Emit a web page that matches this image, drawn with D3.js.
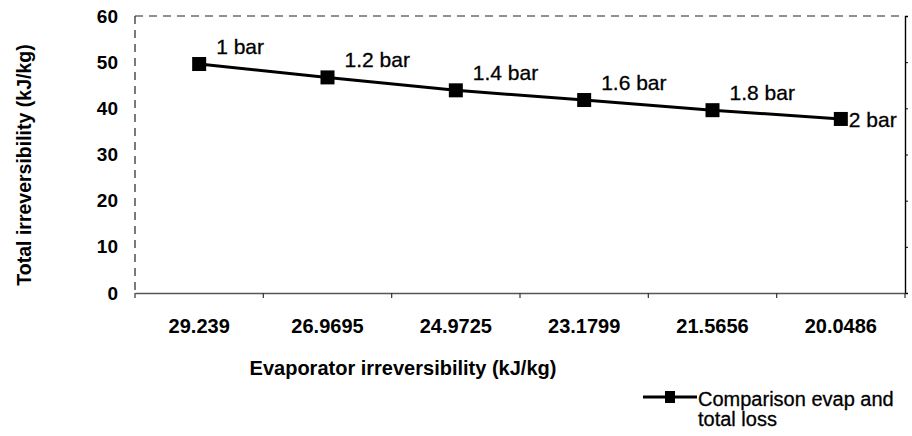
<!DOCTYPE html>
<html>
<head>
<meta charset="utf-8">
<script src="https://cdn.jsdelivr.net/npm/d3@7"></script>
<style>
  html, body { margin: 0; padding: 0; background: #fff; }
  svg { display: block; font-family: "Liberation Sans", Arial, sans-serif; }
</style>
</head>
<body>
<svg id="chart" width="912" height="436"></svg>
<script>
// ---- data ----
const categories = ["29.239", "26.9695", "24.9725", "23.1799", "21.5656", "20.0486"];
const values = [49.6, 46.7, 43.9, 41.8, 39.6, 37.7];
const pointLabels = ["1 bar", "1.2 bar", "1.4 bar", "1.6 bar", "1.8 bar", "2 bar"];
const yTicks = [0, 10, 20, 30, 40, 50, 60];
const seriesName = ["Comparison evap and", "total loss"];
const xTitle = "Evaporator irreversibility (kJ/kg)";
const yTitle = "Total irreversibility (kJ/kg)";

// ---- layout ----
const svg = d3.select("#chart");
const L = 135, R = 905, T = 16, B = 293;

const x = d3.scaleBand().domain(categories).range([L, R]).paddingInner(0).paddingOuter(0);
const y = d3.scaleLinear().domain([0, 60]).range([B, T]);

// plot border: dashed top & left
svg.append("line").attr("x1", L).attr("x2", R).attr("y1", T).attr("y2", T)
  .attr("stroke", "#222").attr("stroke-width", 1.2).attr("stroke-dasharray", "8,6");
svg.append("line").attr("x1", L).attr("x2", L).attr("y1", T).attr("y2", B)
  .attr("stroke", "#222").attr("stroke-width", 1.2).attr("stroke-dasharray", "8,6");

// right axis: solid with outward small ticks
const rightAxis = d3.axisRight(y).tickValues(yTicks).tickSize(3).tickFormat("");
const ra = svg.append("g").attr("transform", `translate(${R},0)`).call(rightAxis);
ra.select(".domain").attr("stroke", "#000").attr("stroke-width", 1.4);
ra.selectAll(".tick line").attr("stroke", "#000");

// left tick labels
const leftAxis = d3.axisLeft(y).tickValues(yTicks).tickSize(0).tickPadding(17);
const la = svg.append("g").attr("transform", `translate(${L},0)`).call(leftAxis);
la.select(".domain").remove();
la.selectAll(".tick text").attr("font-size", 19).attr("font-weight", "bold")
  .attr("fill", "#000").attr("font-family", "'Liberation Sans', Arial, sans-serif");

// bottom axis
const bottomAxis = d3.axisBottom(x).tickSize(0).tickPadding(26);
const ba = svg.append("g").attr("transform", `translate(0,${B})`).call(bottomAxis);
ba.select(".domain").attr("stroke", "#555").attr("stroke-width", 1.6);
ba.selectAll(".tick text").attr("font-size", 20).attr("font-weight", "bold")
  .attr("fill", "#000").attr("font-family", "'Liberation Sans', Arial, sans-serif");
// band boundary tick marks
const boundaries = categories.map(c => x(c)).concat([x(categories[categories.length - 1]) + x.bandwidth()]);
ba.selectAll("line.bt").data(boundaries).enter().append("line")
  .attr("x1", d => d).attr("x2", d => d).attr("y1", 0).attr("y2", 5)
  .attr("stroke", "#333").attr("stroke-width", 1.2);

// series line
const cx = c => x(c) + x.bandwidth() / 2;
const line = d3.line().x((d, i) => cx(categories[i])).y(d => y(d));
svg.append("path").datum(values).attr("d", line)
  .attr("fill", "none").attr("stroke", "#000").attr("stroke-width", 3);

// markers
const ms = 14;
svg.selectAll("rect.m").data(values).enter().append("rect")
  .attr("x", (d, i) => cx(categories[i]) - ms / 2)
  .attr("y", d => y(d) - ms / 2)
  .attr("width", ms).attr("height", ms).attr("fill", "#000");

// point labels
svg.selectAll("text.pl").data(values).enter().append("text")
  .attr("x", (d, i) => cx(categories[i]) + (i === values.length - 1 ? 8 : 17))
  .attr("y", (d, i) => y(d) + (i === values.length - 1 ? 8 : -10))
  .attr("font-size", 21).attr("fill", "#000")
  .attr("stroke", "#000").attr("stroke-width", 0.3)
  .text((d, i) => pointLabels[i]);

// axis titles
svg.append("text").attr("x", 403).attr("y", 375)
  .attr("text-anchor", "middle").attr("font-size", 20).attr("font-weight", "bold")
  .text(xTitle);
svg.append("text").attr("transform", `translate(31,${165}) rotate(-90)`)
  .attr("text-anchor", "middle").attr("font-size", 19.5).attr("font-weight", "bold")
  .text(yTitle);

// legend
const lg = svg.append("g").attr("transform", "translate(643,397)");
lg.append("line").attr("x1", 0).attr("x2", 54).attr("y1", 0).attr("y2", 0)
  .attr("stroke", "#000").attr("stroke-width", 3);
lg.append("rect").attr("x", 27 - 5).attr("y", -6).attr("width", 10).attr("height", 12).attr("fill", "#000");
lg.selectAll("text").data(seriesName).enter().append("text")
  .attr("x", 55).attr("y", (d, i) => 9 + i * 20)
  .attr("font-size", 20).attr("fill", "#000")
  .attr("stroke", "#000").attr("stroke-width", 0.3)
  .text(d => d);
</script>
</body>
</html>
